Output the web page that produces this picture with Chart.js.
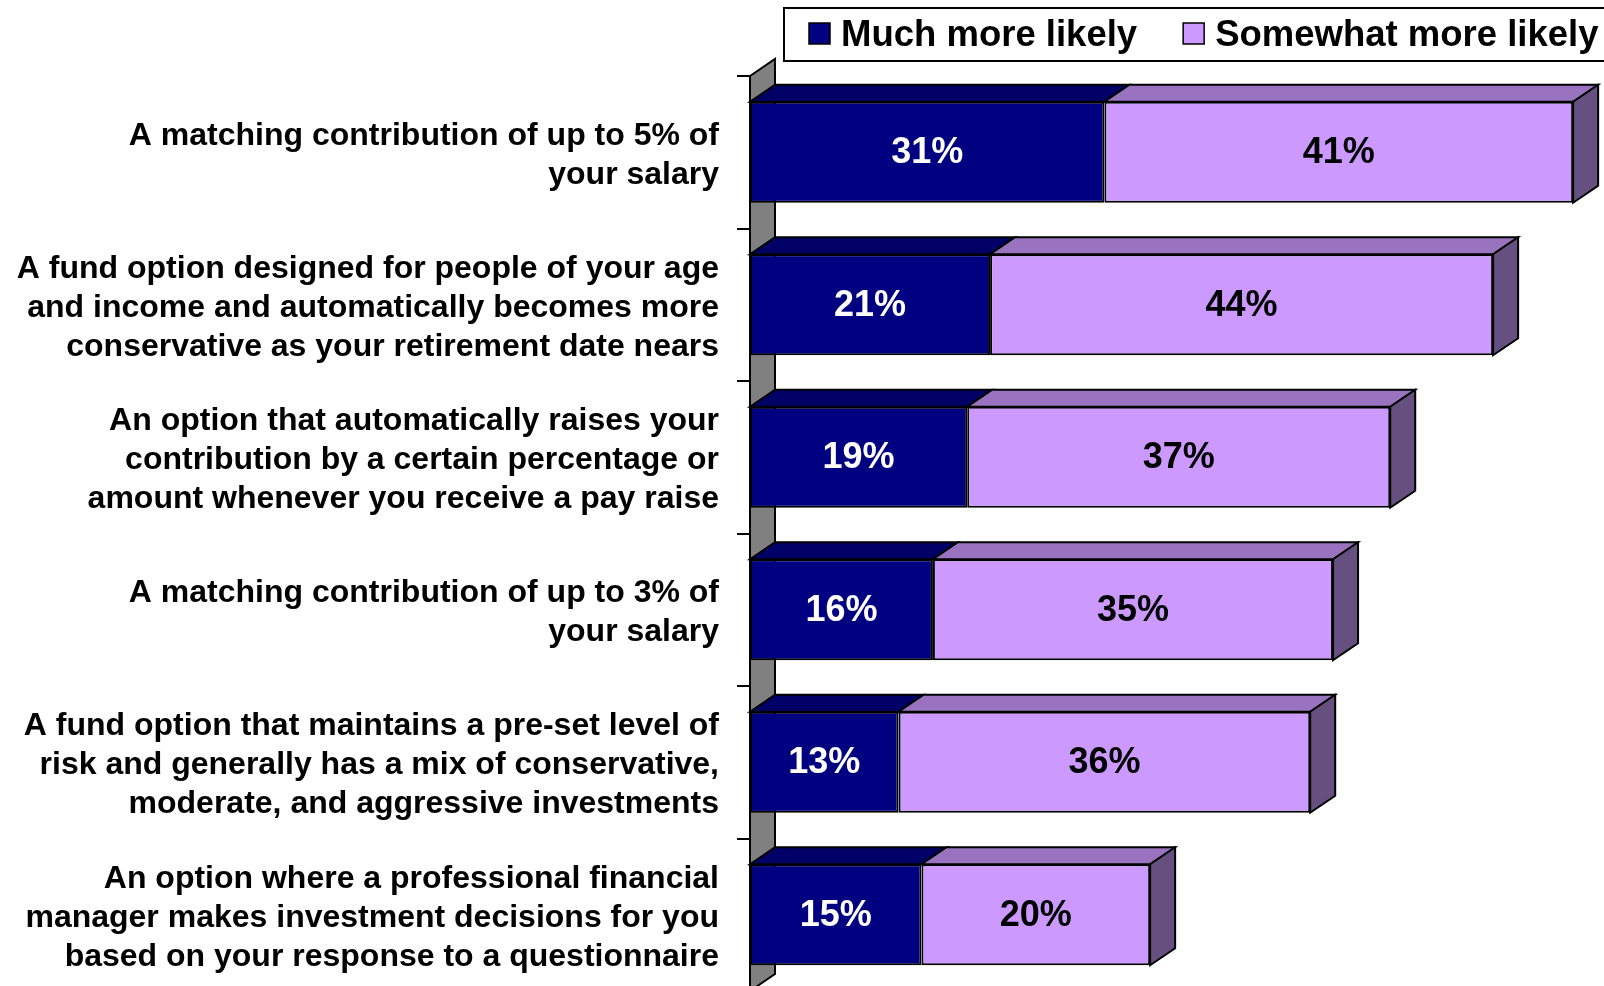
<!DOCTYPE html>
<html>
<head>
<meta charset="utf-8">
<script src="https://cdn.jsdelivr.net/npm/chart.js@4/dist/chart.umd.min.js"></script>
<style>
  html, body { margin: 0; padding: 0; background: #fff; overflow: hidden; }
  #wrap { width: 1604px; height: 992px; }
</style>
</head>
<body>
<div id="wrap"><canvas id="likelyChart" width="1604" height="992"></canvas></div>
<script>
const categories = [
  ["A matching contribution of up to 5% of", "your salary"],
  ["A fund option designed for people of your age", "and income and automatically becomes more", "conservative as your retirement date nears"],
  ["An option that automatically raises your", "contribution by a certain percentage or", "amount whenever you receive a pay raise"],
  ["A matching contribution of up to 3% of", "your salary"],
  ["A fund option that maintains a pre-set level of", "risk and generally has a mix of conservative,", "moderate, and aggressive investments"],
  ["An option where a professional financial", "manager makes investment decisions for you", "based on your response to a questionnaire"],
];
const seriesNames = ["Much more likely", "Somewhat more likely"];
const muchMoreLikely = [31, 21, 19, 16, 13, 15];
const somewhatMoreLikely = [41, 44, 37, 35, 36, 20];

const FONT = '"Liberation Sans", Arial, sans-serif';
const DEPTH_X = 25;
const DEPTH_Y = 17;

// front / top / side shades for each series
const shades = [
  { front: "#000080", top: "#000066", side: "#00004d", text: "#ffffff" },
  { front: "#cc99ff", top: "#9973bf", side: "#665080", text: "#000000" },
];

function poly(ctx, pts, fill) {
  ctx.beginPath();
  ctx.moveTo(pts[0][0], pts[0][1]);
  for (let i = 1; i < pts.length; i++) ctx.lineTo(pts[i][0], pts[i][1]);
  ctx.closePath();
  ctx.fillStyle = fill;
  ctx.fill();
  ctx.stroke();
}

// grey side wall behind the bars
const wallPlugin = {
  id: "wall",
  beforeDatasetsDraw(chart) {
    const { ctx, chartArea: a } = chart;
    ctx.save();
    ctx.strokeStyle = "#000";
    ctx.lineWidth = 2;
    poly(ctx, [
      [a.left, a.top],
      [a.left + DEPTH_X, a.top - DEPTH_Y],
      [a.left + DEPTH_X, a.bottom - DEPTH_Y],
      [a.left, a.bottom],
    ], "#808080");
    ctx.restore();
  },
};

// top and end faces of the stacked bars, plus the value labels
const depthPlugin = {
  id: "depth",
  afterDatasetsDraw(chart) {
    const { ctx } = chart;
    const last = chart.data.datasets.length - 1;
    ctx.save();
    ctx.strokeStyle = "#000";
    ctx.lineWidth = 2;
    chart.data.datasets.forEach((ds, di) => {
      const meta = chart.getDatasetMeta(di);
      meta.data.forEach((bar) => {
        const { x, y, base, height } = bar.getProps(["x", "y", "base", "height"], true);
        const top = y - height / 2;
        const bottom = y + height / 2;
        poly(ctx, [
          [base, top],
          [base + DEPTH_X, top - DEPTH_Y],
          [x + DEPTH_X, top - DEPTH_Y],
          [x, top],
        ], shades[di].top);
        if (di === last) {
          poly(ctx, [
            [x, top],
            [x + DEPTH_X, top - DEPTH_Y],
            [x + DEPTH_X, bottom - DEPTH_Y],
            [x, bottom],
          ], shades[di].side);
        }
      });
    });

    ctx.font = "bold 36px " + FONT;
    ctx.textAlign = "center";
    ctx.textBaseline = "middle";
    chart.data.datasets.forEach((ds, di) => {
      const meta = chart.getDatasetMeta(di);
      ctx.fillStyle = shades[di].text;
      meta.data.forEach((bar, i) => {
        const { x, y, base } = bar.getProps(["x", "y", "base"], true);
        ctx.fillText(ds.data[i] + "%", (x + base) / 2, y + 1);
      });
    });
    ctx.restore();
  },
};

// boxed legend in the top right corner
const legendBoxPlugin = {
  id: "legendBox",
  afterDraw(chart) {
    const { ctx } = chart;
    ctx.save();
    ctx.strokeStyle = "#000";
    ctx.lineWidth = 2;
    ctx.strokeRect(784, 8, 840, 53);
    ctx.font = "bold 36.5px " + FONT;
    ctx.textBaseline = "alphabetic";
    ctx.textAlign = "left";
    let x = 809;
    chart.data.datasets.forEach((ds) => {
      ctx.fillStyle = ds.backgroundColor;
      ctx.lineWidth = 1.5;
      ctx.fillRect(x, 23, 21, 21);
      ctx.strokeRect(x, 23, 21, 21);
      ctx.fillStyle = "#000";
      ctx.fillText(ds.label, x + 32, 46);
      x += 32 + ctx.measureText(ds.label).width + 46;
    });
    ctx.restore();
  },
};

const ctx = document.getElementById("likelyChart");
new Chart(ctx, {
  type: "bar",
  data: {
    labels: categories,
    datasets: [
      {
        label: seriesNames[0],
        data: muchMoreLikely,
        backgroundColor: shades[0].front,
        borderColor: "#000",
        borderWidth: 2,
        borderSkipped: false,
      },
      {
        label: seriesNames[1],
        data: somewhatMoreLikely,
        backgroundColor: shades[1].front,
        borderColor: "#000",
        borderWidth: 2,
        borderSkipped: false,
      },
    ],
  },
  options: {
    indexAxis: "y",
    responsive: false,
    animation: false,
    devicePixelRatio: 1,
    layout: { padding: { top: 76, bottom: 1, left: 0, right: 8 } },
    datasets: { bar: { barPercentage: 0.662, categoryPercentage: 1 } },
    plugins: {
      legend: { display: false },
      tooltip: { enabled: false },
    },
    scales: {
      x: { stacked: true, min: 0, max: 74, display: false },
      y: {
        stacked: true,
        // fixed label column; multi-line labels must not shrink the plot
        afterFit: (s) => {
          s.width = 750;
          s.paddingTop = 0;
          s.paddingBottom = 0;
        },
        border: { display: false },
        grid: {
          offset: true,
          drawOnChartArea: false,
          drawTicks: true,
          tickLength: 13,
          color: "#000",
          lineWidth: 2,
        },
        ticks: {
          color: "#000",
          padding: 18,
          labelOffset: 3,
          font: { family: FONT, size: 32, weight: "bold", lineHeight: 1.22 },
        },
      },
    },
  },
  plugins: [wallPlugin, depthPlugin, legendBoxPlugin],
});
</script>
</body>
</html>
